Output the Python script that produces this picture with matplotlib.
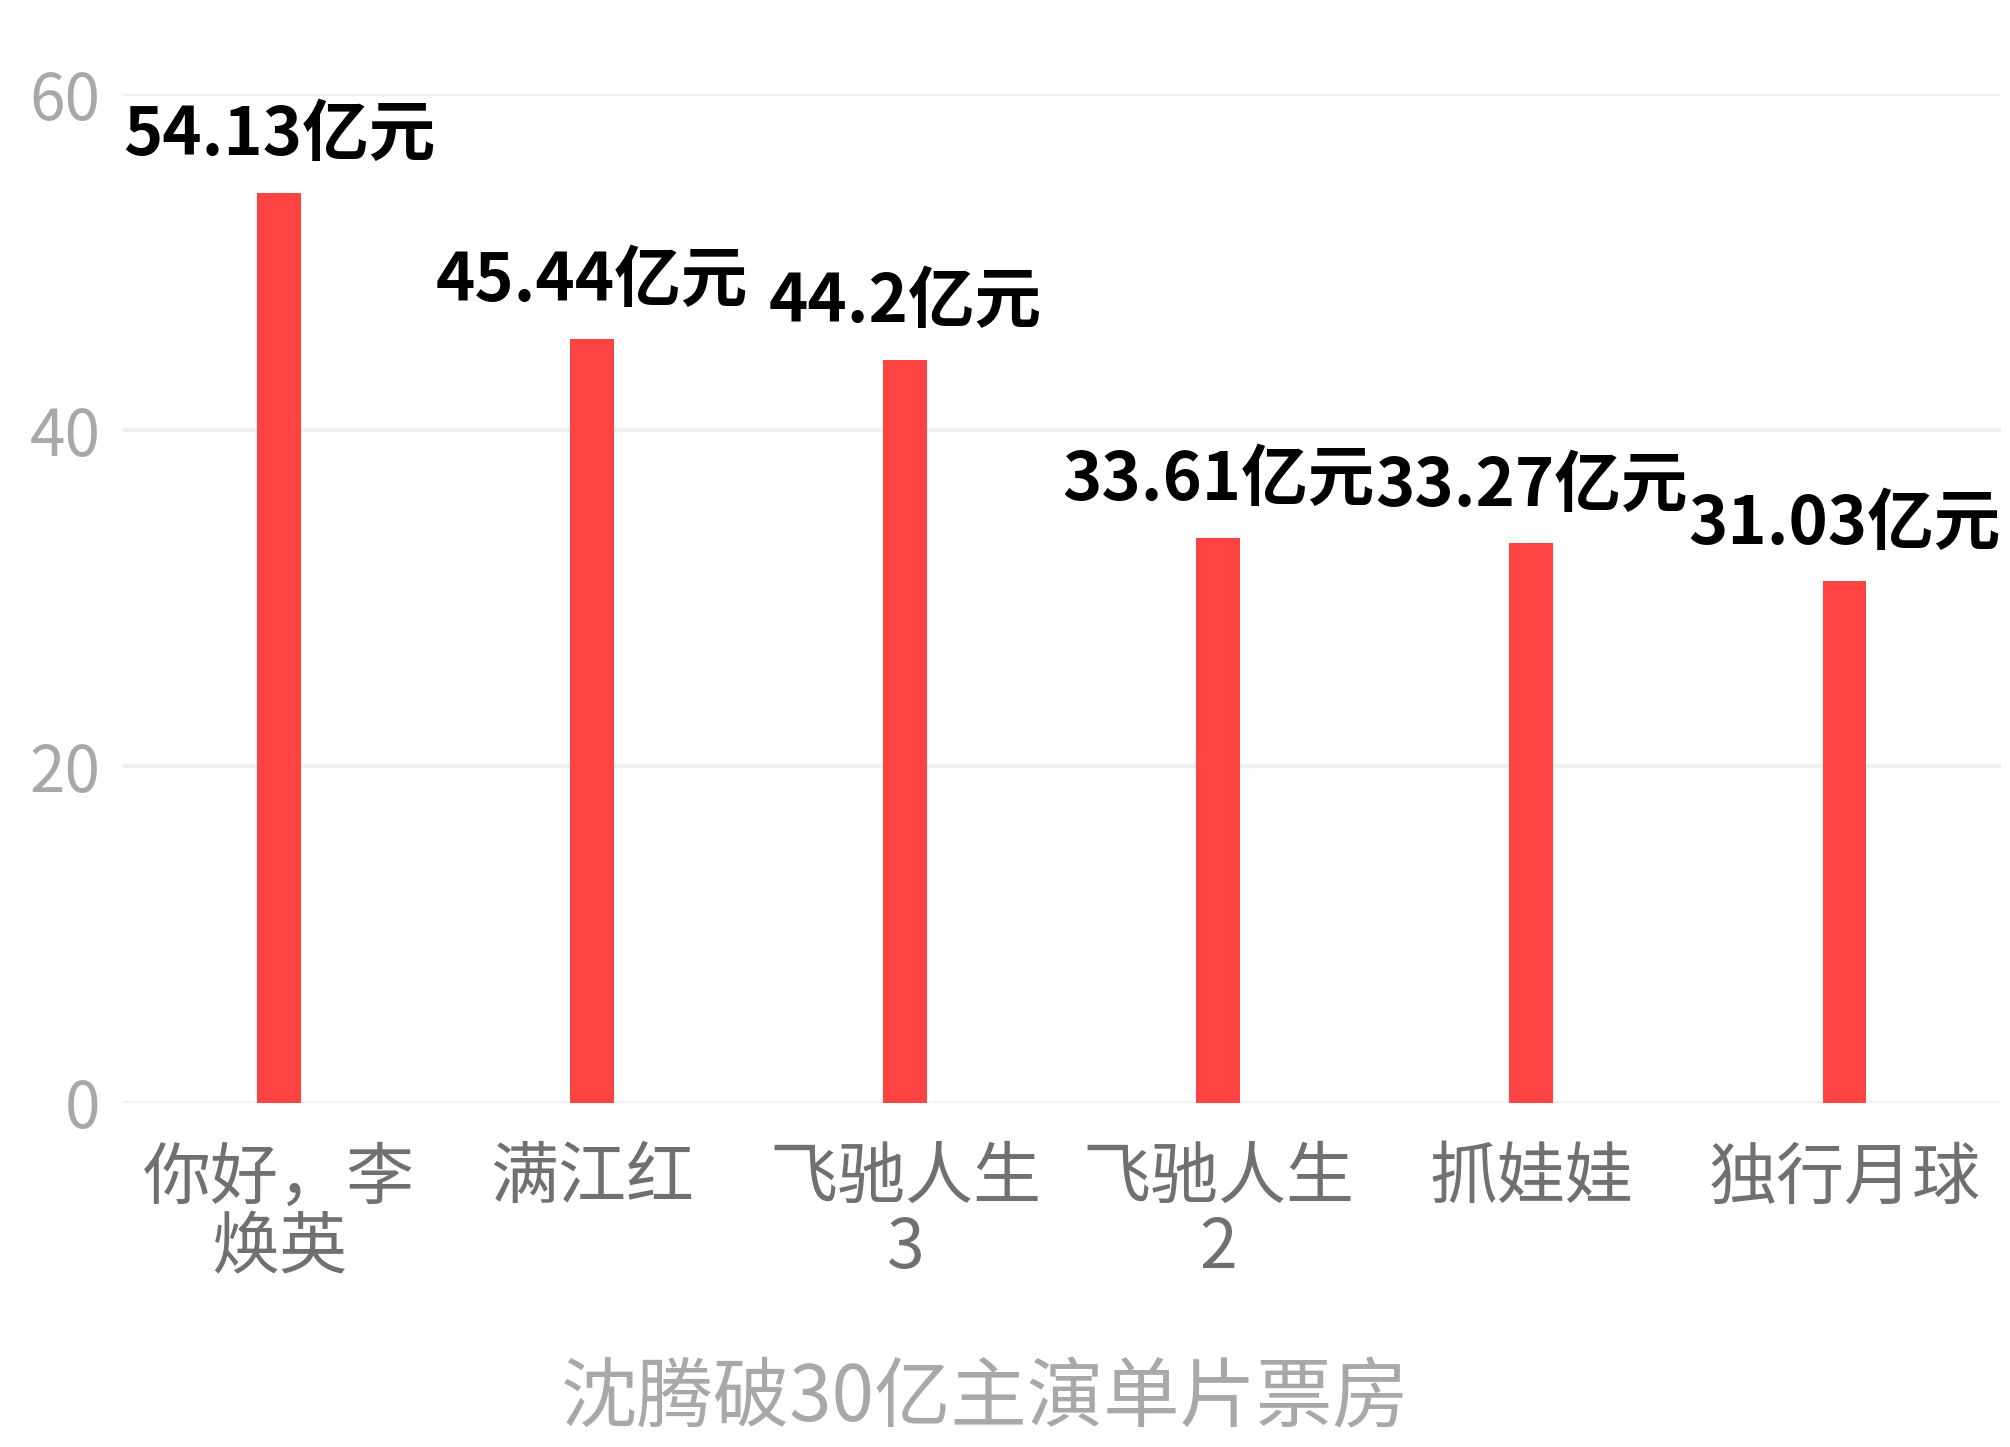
import numpy as np
import matplotlib
matplotlib.use("Agg")
import matplotlib.pyplot as plt

plt.rcParams['font.family'] = ['Noto Sans CJK SC', 'DejaVu Sans']

films = ["你好，李\n焕英", "满江红", "飞驰人生\n3", "飞驰人生\n2", "抓娃娃", "独行月球"]
box_office = [54.13, 45.44, 44.2, 33.61, 33.27, 31.03]
value_labels = ["54.13亿元", "45.44亿元", "44.2亿元", "33.61亿元", "33.27亿元", "31.03亿元"]
y_ticks = [0, 20, 40, 60]
title = "沈腾破30亿主演单片票房"

fig = plt.figure(figsize=(20.1, 14.47), dpi=100)
ax = fig.add_axes([0.061, 0.238, 0.9345, 0.697])

x = np.arange(len(films))
ax.bar(x, box_office, width=0.14, color="#fe4343", zorder=3)

# value labels above the bars
for xi, v, lab in zip(x, box_office, value_labels):
    ax.annotate(lab, (xi, v), xytext=(0, 27), textcoords="offset points",
                ha="center", va="baseline", fontsize=48, fontweight="bold",
                color="black")

ax.set_xlim(-0.5, len(films) - 0.5)
ax.set_ylim(0, 60)
ax.set_yticks(y_ticks)
ax.set_xticks(x)
ax.set_xticklabels(films, fontsize=49, color="#707070", linespacing=1.0)
ax.tick_params(axis="x", length=0, pad=30)
ax.tick_params(axis="y", length=0, pad=16, labelsize=46, labelcolor="#a8a8a8")
ax.grid(axis="y", color="#f0f0f0", linewidth=3, zorder=0)
for s in ax.spines.values():
    s.set_visible(False)

fig.text(0.49, 0.0175, title, ha="center", va="baseline", fontsize=55,
         color="#a8a8a8")

fig.savefig("out.png", dpi=100, facecolor="white")
